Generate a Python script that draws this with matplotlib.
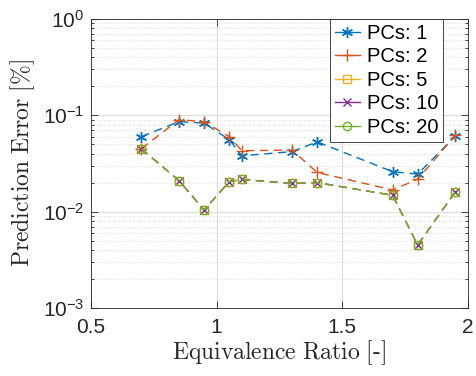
import matplotlib
matplotlib.use("Agg")
import matplotlib.pyplot as plt
from matplotlib.lines import Line2D
from matplotlib.ticker import LogLocator, FixedLocator, NullFormatter

plt.rcParams['font.family'] = ['Liberation Sans', 'DejaVu Sans']
plt.rcParams['mathtext.fontset'] = 'custom'
plt.rcParams['mathtext.rm'] = 'Liberation Sans'
plt.rcParams['mathtext.it'] = 'Liberation Sans:italic'
plt.rcParams['mathtext.bf'] = 'Liberation Sans:bold'

phi = [0.7, 0.85, 0.95, 1.05, 1.1, 1.3, 1.4, 1.7, 1.8, 1.95]
err_pc1 = [0.060, 0.086, 0.083, 0.056, 0.038, 0.042, 0.053, 0.026, 0.0245, 0.061]
err_pc2 = [0.045, 0.090, 0.086, 0.060, 0.043, 0.0435, 0.0255, 0.0168, 0.0217, 0.062]
err_pc5 = [0.045, 0.021, 0.0104, 0.0205, 0.0216, 0.0196, 0.0200, 0.0148, 0.0045, 0.0161]
err_pc10 = [0.045, 0.021, 0.0104, 0.0205, 0.0216, 0.0196, 0.0200, 0.0148, 0.0045, 0.0161]
err_pc20 = [0.045, 0.021, 0.0104, 0.0205, 0.0216, 0.0196, 0.0200, 0.0148, 0.0045, 0.0161]
labels = ['PCs: 1', 'PCs: 2', 'PCs: 5', 'PCs: 10', 'PCs: 20']
xticks = [0.5, 1, 1.5, 2]
xticklabels = ['0.5', '1', '1.5', '2']
yticks = [1e-3, 1e-2, 1e-1, 1]
yticklabels = [r'$10^{-3}$', r'$10^{-2}$', r'$10^{-1}$', r'$10^{0}$']

colors = ['#0072BD', '#D95319', '#EDB120', '#7E2F8E', '#77AC30']
markers = [(6, 2, 0), '+', 's', 'x', 'o']
msizes = [8, 8, 6, 6, 6]
series = [err_pc1, err_pc2, err_pc5, err_pc10, err_pc20]

fig = plt.figure(figsize=(4.77, 3.76), dpi=100)
ax = fig.add_axes([0.1908, 0.1809, 0.7903, 0.7686])

handles = []
for y, c, m, ms, lab in zip(series, colors, markers, msizes, labels):
    ax.plot(phi, y, linestyle=(0, (6, 4)), color=c, marker=m, markersize=ms,
            markerfacecolor='none', markeredgewidth=1.0, linewidth=1.0)
    handles.append(Line2D([], [], color=c, marker=m, markersize=ms,
                          markerfacecolor='none', markeredgewidth=1.0,
                          linewidth=1.0, label=lab))

ax.set_yscale('log')
ax.set_xlim(0.5, 2)
ax.set_ylim(1e-3, 1)
ax.xaxis.set_major_locator(FixedLocator(xticks))
ax.set_xticklabels(xticklabels)
ax.yaxis.set_major_locator(FixedLocator(yticks))
ax.set_yticklabels(yticklabels)
ax.yaxis.set_minor_locator(LogLocator(base=10, subs=range(2, 10), numticks=20))
ax.yaxis.set_minor_formatter(NullFormatter())

ax.grid(True, which='major', color='#dcdcdc', linewidth=0.8, linestyle='-')
ax.grid(True, which='minor', axis='y', color='#d0d0d0', linewidth=0.6, linestyle=(0, (1, 2)))
ax.set_axisbelow(True)

ax.tick_params(which='both', direction='in', top=True, right=True, labelsize=15,
               colors='#262626', width=0.6)
ax.tick_params(which='major', length=5)
ax.tick_params(which='minor', length=2.5)
ax.tick_params(axis='x', pad=7)
ax.tick_params(axis='y', pad=5)
for s in ax.spines.values():
    s.set_color('#262626')
    s.set_linewidth(0.6)

xl = ax.set_xlabel(r'$\mathrm{Equivalence\ Ratio\ [\text{-}]}$', fontsize=17, color='#262626', labelpad=1)
xl.set_math_fontfamily('cm')
yl = ax.set_ylabel(r'$\mathrm{Prediction\ Error\ [\%]}$', fontsize=17, color='#262626', labelpad=4)
yl.set_math_fontfamily('cm')

leg = ax.legend(handles=handles, loc='upper right', fontsize=14.5, frameon=True,
                fancybox=False, edgecolor='#262626', framealpha=1,
                borderaxespad=0.0, handlelength=1.2, handletextpad=0.35,
                labelspacing=0.22, borderpad=0.25)
leg.get_frame().set_linewidth(0.6)
leg.set_bbox_to_anchor((0.934, 1.0), transform=ax.transAxes)

fig.savefig('out.png', dpi=100)
